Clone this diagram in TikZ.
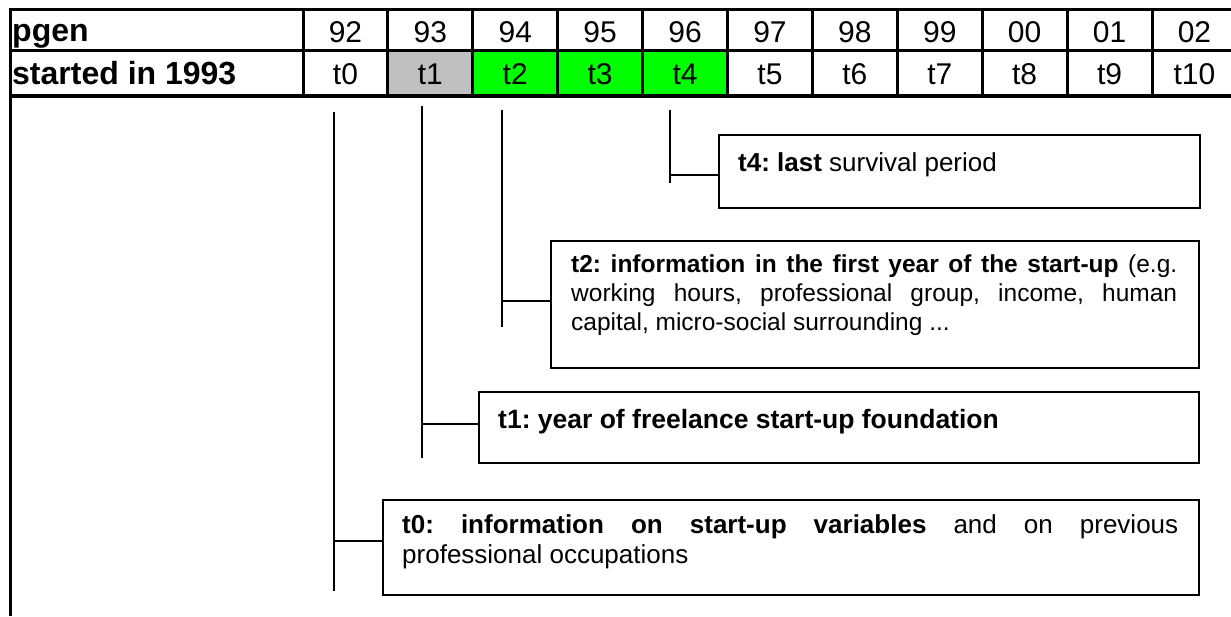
\documentclass[tikz,border=0pt]{standalone}
\usepackage{fontspec}
\setmainfont{Liberation Sans}
\definecolor{cellgray}{RGB}{192,192,192}
\definecolor{cellgreen}{RGB}{0,255,0}
\hyphenpenalty=10000
\exhyphenpenalty=10000
\tolerance=10000
\hbadness=10000
\frenchspacing
\begin{document}
\begin{tikzpicture}[x=1pt,y=-1pt,
  gridline/.style={line width=3pt},
  thinline/.style={line width=1.6pt},
  infobox/.style={draw,line width=1.6pt,anchor=north west,inner sep=0pt},
  boxtext/.style={inner sep=0pt,font=\fontsize{26}{30}\selectfont},
  hdr/.style={font=\fontsize{32}{38}\selectfont\bfseries,anchor=base west,inner sep=0pt},
  num/.style={font=\fontsize{30}{36}\selectfont,anchor=base,inner sep=0pt}
]
\useasboundingbox (0,0) rectangle (1231,616);

% coloured cells
\fill[cellgray] (387.9,50) rectangle (472.8,96);
\fill[cellgreen] (472.8,50) rectangle (727.5,96);

% table grid
\draw[gridline] (8.5,9) -- (1231,9);
\draw[gridline] (10,50) -- (1231,50);
\draw[line width=4pt] (10,96) -- (1231,96);
\draw[gridline] (10,7.5) -- (10,616);
\foreach \i in {0,...,10} \draw[gridline] ({303+84.9*\i},9) -- ({303+84.9*\i},96);

% header labels
\node[hdr] (pgen) at (12,41) {pgen};
\node[hdr] (started) at (12,84) {started in 1993};

% years
\foreach \yr [count=\i from 0] in {92,93,94,95,96,97,98,99,00,01,02}
  \node[num] (y\yr) at ({303+84.9*(\i+0.5)},42) {\yr};
% periods
\foreach \i in {0,...,10}
  \node[num] (t\i) at ({303+84.9*(\i+0.5)},84) {t\i};

% boxes
\node[infobox, minimum width=481, minimum height=73] (b4) at (718,134) {};
\node[infobox, minimum width=648, minimum height=127] (b2) at (550,240) {};
\node[infobox, minimum width=720, minimum height=71] (b1) at (478,391) {};
\node[infobox, minimum width=816, minimum height=95] (b0) at (382,499) {};

% box texts
\node[boxtext, anchor=base west] (x4) at (738,171) {\textbf{t4: last} survival period};
\node[boxtext, anchor=north west, text width=606, align=justify,
      font=\fontsize{24.5}{29}\selectfont] (x2) at (571,255)
  {\textbf{t2: information in the first year of the start-up} (e.g.\linebreak working hours, professional group, income, human\linebreak capital, micro-social surrounding ...};
\node[boxtext, anchor=base west, font=\fontsize{26.5}{30}\selectfont\bfseries] (x1) at (498,428) {t1: year of freelance start-up foundation};
\node[boxtext, anchor=north west, text width=776, align=justify] (x0) at (402,514)
  {\textbf{t0: information on start-up variables} and on previous\linebreak professional occupations};

% timeline lines and connectors
\coordinate (a0) at (334,112); \coordinate (z0) at (334,591); \coordinate (j0) at (334,541);
\coordinate (a1) at (422,106); \coordinate (z1) at (422,458); \coordinate (j1) at (422,424);
\coordinate (a2) at (502,110); \coordinate (z2) at (502,327); \coordinate (j2) at (502,301);
\coordinate (a4) at (670,110); \coordinate (z4) at (670,183); \coordinate (j4) at (670,175);
\draw[thinline] (a0) -- (z0);
\draw[thinline] (a1) -- (z1);
\draw[thinline] (a2) -- (z2);
\draw[thinline] (a4) -- (z4);
\draw[thinline] (j0) -- (j0 -| b0.west);
\draw[thinline] (j1) -- (j1 -| b1.west);
\draw[thinline] (j2) -- (j2 -| b2.west);
\draw[thinline] (j4) -- (j4 -| b4.west);
\end{tikzpicture}
\end{document}
